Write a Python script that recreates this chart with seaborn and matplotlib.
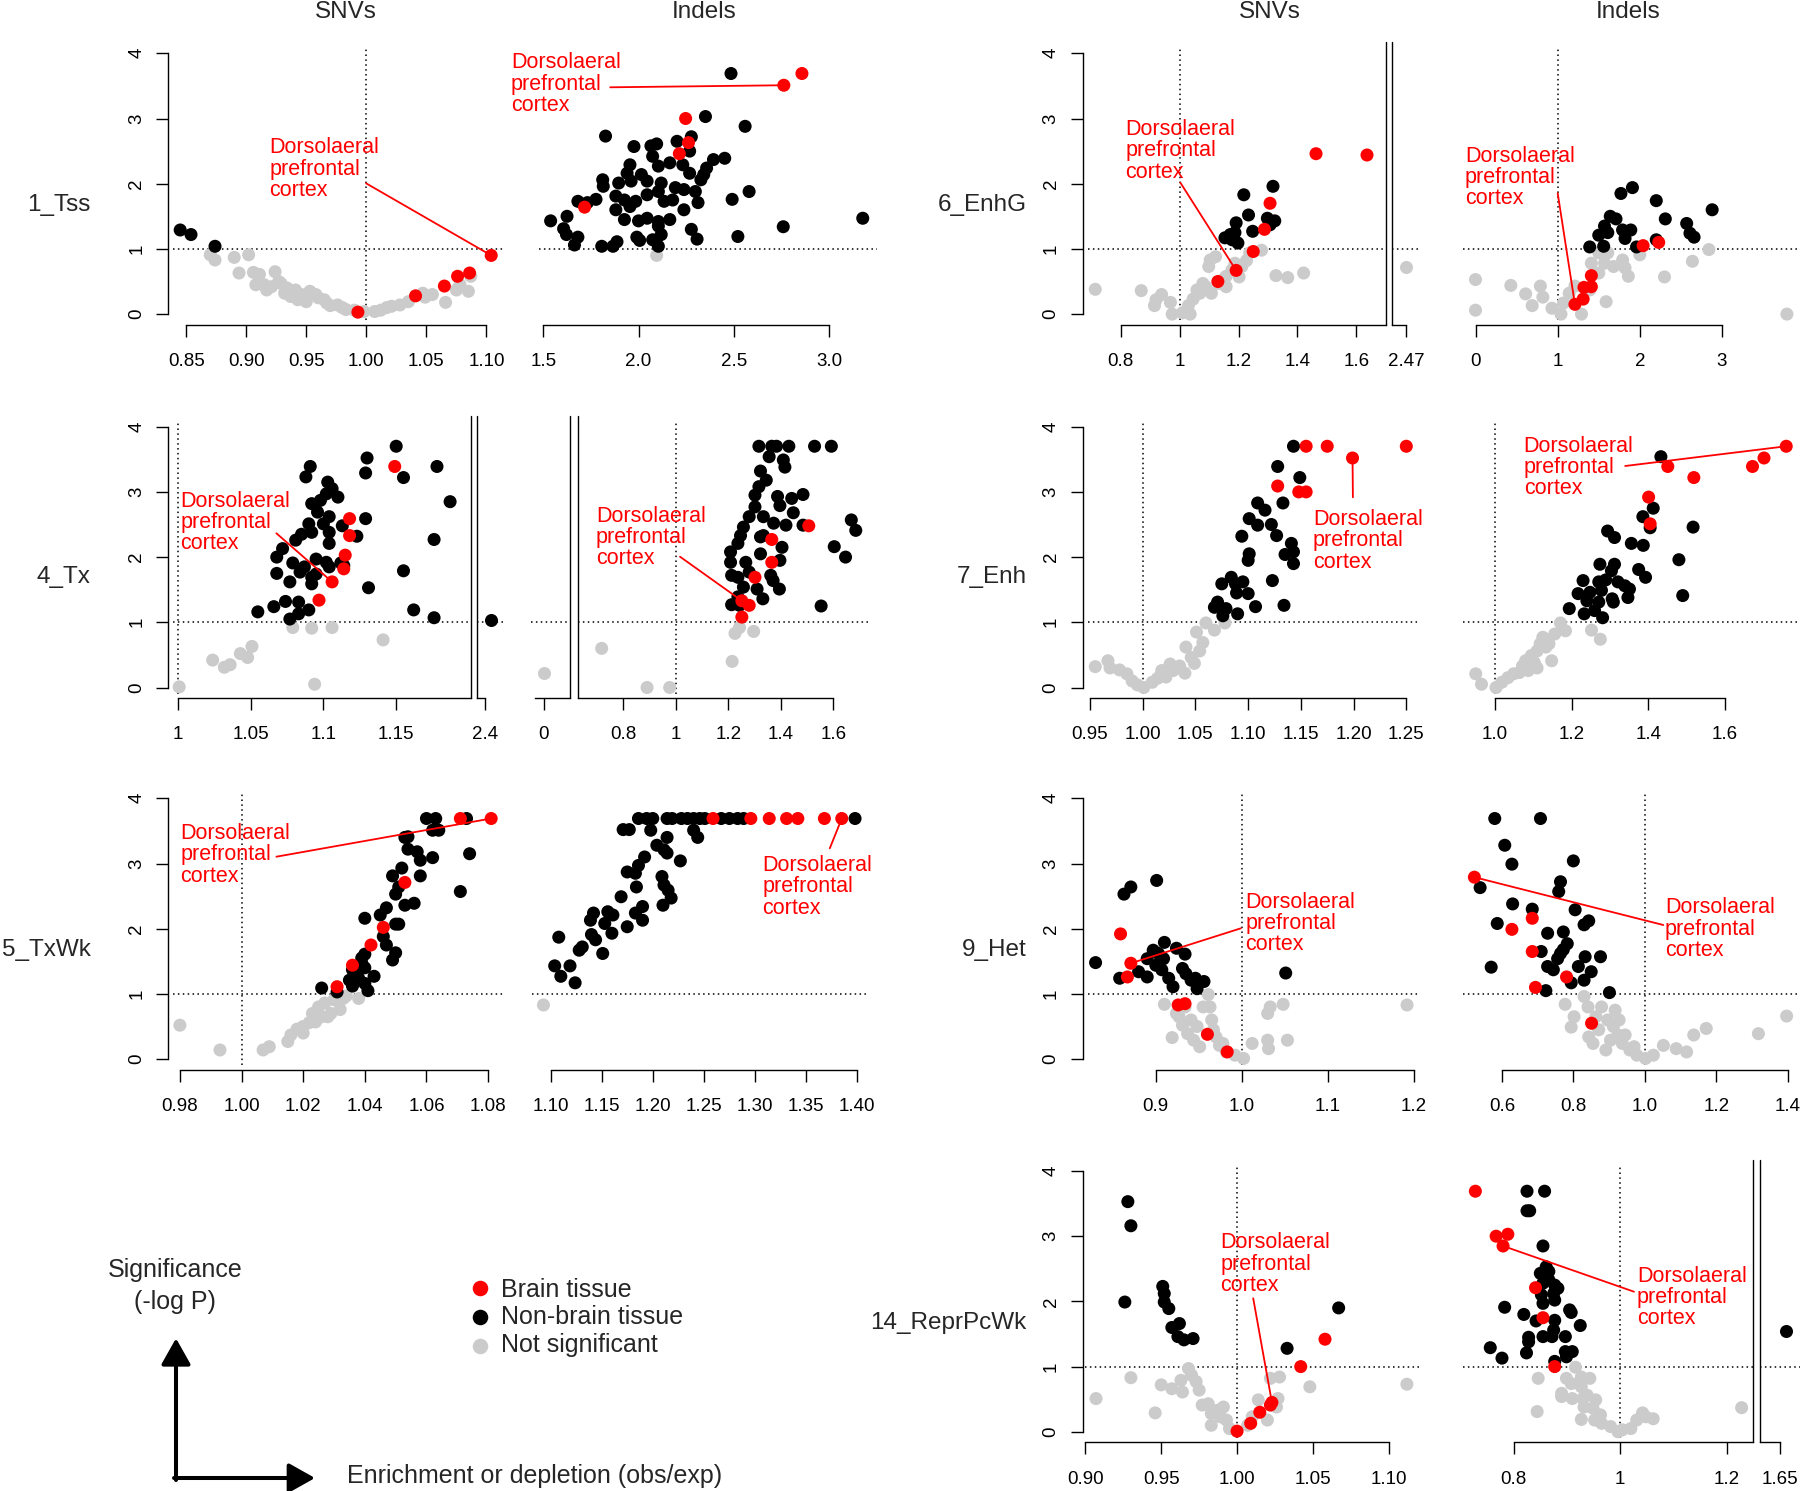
import pandas as pd
import matplotlib
matplotlib.use("Agg")
import matplotlib.pyplot as plt
from matplotlib.patches import ConnectionPatch
import seaborn as sns

# (obs/exp enrichment, -log10 P) per tissue.
# The first point of every *_RED list is dorsolateral prefrontal cortex.

TSS_SNV_GREY = [
    (0.870, 0.91), (0.874, 0.83), (0.890, 0.87), (0.902, 0.91), (0.894, 0.63),
    (0.906, 0.64), (0.911, 0.61), (0.924, 0.65), (0.908, 0.45), (0.915, 0.45),
    (0.921, 0.42), (0.927, 0.50), (0.929, 0.47), (0.932, 0.32), (0.934, 0.40),
    (0.937, 0.27), (0.941, 0.37), (0.943, 0.22), (0.946, 0.30), (0.950, 0.19),
    (0.953, 0.35), (0.958, 0.30), (0.960, 0.25), (0.965, 0.22), (0.967, 0.17),
    (0.970, 0.13), (0.976, 0.14), (0.980, 0.10), (0.983, 0.07), (0.990, 0.06),
    (0.998, 0.04), (1.007, 0.04), (1.012, 0.06), (1.017, 0.10), (1.021, 0.12),
    (1.028, 0.14), (1.035, 0.19), (1.047, 0.32), (1.049, 0.26), (1.055, 0.30),
    (1.066, 0.18), (1.075, 0.37), (1.078, 0.45), (1.085, 0.35), (1.087, 0.58),
    (0.917, 0.37),
]
TSS_SNV_BLACK = [(0.845, 1.29), (0.854, 1.22), (0.874, 1.04)]
TSS_SNV_RED = [(1.104, 0.90), (0.993, 0.03), (1.041, 0.28), (1.065, 0.43),
               (1.076, 0.58), (1.086, 0.63)]

TSS_INDEL_GREY = [(2.095, 0.90)]
TSS_INDEL_BLACK = [
    (2.485, 3.69), (2.351, 3.03), (2.559, 2.88), (1.827, 2.73), (1.976, 2.57),
    (2.065, 2.58), (2.095, 2.61), (2.202, 2.65), (2.277, 2.72), (2.268, 2.50),
    (2.393, 2.37), (2.452, 2.39), (2.357, 2.24), (2.342, 2.14), (2.327, 2.06),
    (2.268, 2.16), (2.232, 2.29), (2.164, 2.32), (2.104, 2.27), (2.074, 2.42),
    (1.955, 2.29), (1.940, 2.16), (2.015, 2.14), (1.812, 2.06), (1.815, 1.96),
    (1.896, 2.01), (1.961, 2.04), (2.045, 2.04), (2.119, 2.01), (2.193, 1.94),
    (2.238, 1.91), (2.298, 1.88), (2.580, 1.88), (2.491, 1.76), (1.777, 1.76),
    (1.682, 1.73), (1.732, 1.71), (1.881, 1.81), (1.926, 1.75), (1.985, 1.73),
    (2.045, 1.83), (2.104, 1.88), (2.134, 1.73), (2.179, 1.75), (2.312, 1.71),
    (2.238, 1.60), (1.881, 1.60), (1.955, 1.65), (1.625, 1.50), (1.539, 1.43),
    (1.926, 1.45), (2.000, 1.43), (2.045, 1.47), (2.104, 1.42), (2.164, 1.45),
    (2.104, 1.35), (2.277, 1.30), (1.607, 1.31), (1.622, 1.22), (1.682, 1.18),
    (1.664, 1.06), (1.807, 1.04), (1.866, 1.04), (1.887, 1.11), (1.991, 1.18),
    (2.006, 1.13), (2.074, 1.14), (2.119, 1.22), (2.104, 1.04), (2.307, 1.15),
    (2.521, 1.19), (2.759, 1.34), (3.176, 1.47),
]
TSS_INDEL_RED = [(2.762, 3.51), (2.857, 3.69), (2.247, 3.00), (2.262, 2.63),
                 (2.214, 2.46), (1.717, 1.64)]

TX_SNV_GREY = [
    (1.001, 0.01), (1.024, 0.42), (1.032, 0.31), (1.036, 0.35), (1.043, 0.52),
    (1.048, 0.46), (1.051, 0.63), (1.079, 0.92), (1.092, 0.91), (1.106, 0.92),
    (1.094, 0.05), (1.141, 0.73),
]
TX_SNV_BLACK = [
    (1.055, 1.16), (1.066, 1.24), (1.074, 1.32), (1.077, 1.05), (1.083, 1.31),
    (1.083, 1.13), (1.090, 1.19), (1.068, 1.75), (1.068, 2.00), (1.072, 2.13),
    (1.077, 1.62), (1.079, 1.91), (1.084, 1.77), (1.087, 1.85), (1.092, 1.69),
    (1.092, 1.59), (1.095, 1.74), (1.095, 1.97), (1.102, 1.92), (1.104, 1.85),
    (1.112, 1.91), (1.113, 2.48), (1.123, 2.32), (1.104, 2.21), (1.104, 2.38),
    (1.104, 2.62), (1.100, 2.51), (1.090, 2.51), (1.081, 2.26), (1.085, 2.35),
    (1.092, 2.38), (1.096, 2.69), (1.092, 2.82), (1.098, 2.87), (1.102, 2.97),
    (1.106, 3.05), (1.110, 2.92), (1.103, 3.15), (1.088, 3.23), (1.091, 3.39),
    (1.129, 3.29), (1.130, 3.52), (1.150, 3.70), (1.155, 3.22), (1.178, 3.39),
    (1.187, 2.85), (1.129, 2.59), (1.176, 2.27), (1.155, 1.79), (1.131, 1.53),
    (1.162, 1.19), (1.176, 1.07), (1.114, 1.87), (2.404, 1.04),
]
TX_SNV_RED = [(1.106, 1.62), (1.149, 3.39), (1.118, 2.59), (1.118, 2.33),
              (1.115, 2.03), (1.114, 1.82), (1.097, 1.34)]

TX_INDEL_GREY = [(0.000, 0.23), (0.718, 0.60), (0.891, 0.00), (0.977, 0.00),
                 (1.215, 0.40), (1.226, 0.83), (1.243, 0.92), (1.297, 0.86)]
TX_INDEL_BLACK = [
    (1.317, 3.70), (1.366, 3.70), (1.384, 3.70), (1.431, 3.70), (1.529, 3.70),
    (1.593, 3.70), (1.356, 3.54), (1.410, 3.49), (1.416, 3.38), (1.323, 3.32),
    (1.345, 3.18), (1.317, 3.08), (1.388, 2.93), (1.442, 2.90), (1.485, 2.96),
    (1.302, 2.95), (1.302, 2.77), (1.280, 2.62), (1.334, 2.62), (1.373, 2.52),
    (1.420, 2.49), (1.448, 2.68), (1.397, 2.79), (1.258, 2.46), (1.247, 2.33),
    (1.237, 2.21), (1.323, 2.31), (1.334, 2.33), (1.405, 2.15), (1.397, 1.95),
    (1.209, 2.08), (1.209, 1.92), (1.267, 1.92), (1.280, 1.77), (1.323, 2.05),
    (1.362, 1.72), (1.371, 1.64), (1.213, 1.72), (1.237, 1.69), (1.258, 1.54),
    (1.310, 1.51), (1.332, 1.36), (1.395, 1.51), (1.237, 1.39), (1.213, 1.27),
    (1.243, 1.26), (1.554, 1.25), (1.485, 2.49), (1.604, 2.16), (1.647, 2.00),
    (1.669, 2.57), (1.686, 2.41),
]
TX_INDEL_RED = [(1.252, 1.33), (1.507, 2.48), (1.366, 2.27), (1.366, 1.92),
                (1.302, 1.69), (1.280, 1.26), (1.252, 1.08)]

TXWK_SNV_GREY = [
    (0.980, 0.52), (0.993, 0.14), (1.007, 0.14), (1.009, 0.19), (1.015, 0.27),
    (1.016, 0.37), (1.018, 0.46), (1.020, 0.50), (1.020, 0.40), (1.022, 0.56),
    (1.023, 0.70), (1.024, 0.57), (1.025, 0.80), (1.026, 0.65), (1.027, 0.86),
    (1.028, 0.65), (1.029, 0.70), (1.030, 0.91), (1.032, 0.76), (1.033, 0.93),
    (1.034, 0.97), (1.038, 0.93),
]
TXWK_SNV_BLACK = [
    (1.026, 1.09), (1.031, 1.03), (1.035, 1.21), (1.036, 1.37), (1.038, 1.24),
    (1.039, 1.47), (1.040, 1.61), (1.040, 1.16), (1.041, 1.05), (1.043, 1.27),
    (1.040, 1.40), (1.037, 1.30), (1.039, 1.55), (1.036, 1.12), (1.040, 2.16),
    (1.045, 2.21), (1.047, 2.32), (1.046, 1.88), (1.047, 1.75), (1.049, 1.52),
    (1.050, 1.63), (1.050, 2.07), (1.051, 2.07), (1.050, 2.53), (1.051, 2.64),
    (1.049, 2.81), (1.052, 2.93), (1.053, 3.40), (1.054, 3.22), (1.057, 3.18),
    (1.058, 3.05), (1.058, 2.81), (1.056, 2.39), (1.053, 2.36), (1.060, 3.69),
    (1.063, 3.69), (1.062, 3.51), (1.064, 3.51), (1.062, 3.09), (1.071, 2.57),
    (1.074, 3.15), (1.073, 3.69), (1.054, 3.41),
]
TXWK_SNV_RED = [(1.081, 3.69), (1.071, 3.69), (1.053, 2.71), (1.046, 2.02),
                (1.042, 1.75), (1.036, 1.44), (1.031, 1.11)]

TXWK_INDEL_GREY = [(1.093, 0.83)]
TXWK_INDEL_BLACK = [
    (1.104, 1.43), (1.110, 1.27), (1.108, 1.87), (1.119, 1.43), (1.124, 1.17),
    (1.128, 1.67), (1.131, 1.72), (1.139, 2.13), (1.142, 2.24), (1.140, 1.91),
    (1.144, 1.83), (1.151, 1.62), (1.153, 2.08), (1.156, 2.26), (1.160, 1.93),
    (1.161, 2.21), (1.169, 2.49), (1.175, 2.03), (1.175, 2.87), (1.183, 2.85),
    (1.184, 2.64), (1.186, 2.97), (1.192, 3.10), (1.190, 2.34), (1.183, 2.24),
    (1.190, 2.13), (1.171, 3.52), (1.177, 3.52), (1.198, 3.51), (1.204, 3.28),
    (1.214, 3.40), (1.211, 3.21), (1.214, 3.16), (1.227, 3.04), (1.209, 2.80),
    (1.211, 2.67), (1.215, 2.59), (1.218, 2.47), (1.210, 2.36), (1.240, 3.51),
    (1.244, 3.40), (1.186, 3.69), (1.194, 3.69), (1.200, 3.69), (1.214, 3.69),
    (1.219, 3.69), (1.228, 3.69), (1.234, 3.69), (1.240, 3.69), (1.246, 3.69),
    (1.251, 3.69), (1.267, 3.69), (1.275, 3.69), (1.283, 3.69), (1.289, 3.69),
    (1.398, 3.69),
]
TXWK_INDEL_RED = [(1.385, 3.69), (1.259, 3.69), (1.296, 3.69), (1.314, 3.69),
                  (1.331, 3.69), (1.342, 3.69), (1.368, 3.69)]

ENHG_SNV_GREY = [
    (0.714, 0.38), (0.870, 0.36), (0.915, 0.13), (0.920, 0.22), (0.939, 0.30),
    (0.969, 0.18), (0.975, 0.00), (1.010, 0.02), (1.036, 0.00), (1.030, 0.13),
    (1.046, 0.23), (1.059, 0.37), (1.089, 0.42), (1.069, 0.32), (1.099, 0.73),
    (1.104, 0.83), (1.122, 0.88), (1.148, 0.53), (1.158, 0.58), (1.158, 0.42),
    (1.202, 0.57), (1.211, 0.73), (1.227, 0.82), (1.238, 0.94), (1.278, 0.98),
    (1.327, 0.59), (1.367, 0.56), (1.421, 0.63), (1.108, 0.32), (1.132, 0.47),
    (1.079, 0.47), (1.178, 0.68), (1.188, 0.78), (2.470, 0.72),
]
ENHG_SNV_BLACK = [
    (1.154, 1.17), (1.178, 1.14), (1.192, 1.40), (1.188, 1.25), (1.218, 1.83),
    (1.234, 1.52), (1.248, 1.27), (1.298, 1.47), (1.317, 1.96), (1.323, 1.43),
    (1.307, 1.37), (1.172, 1.22), (1.198, 1.09),
]
ENHG_SNV_RED = [(1.192, 0.67), (1.463, 2.46), (1.636, 2.44), (1.307, 1.70),
                (1.288, 1.30), (1.250, 0.96), (1.130, 0.50)]

ENHG_INDEL_GREY = [
    (0.00, 0.53), (0.00, 0.06), (0.43, 0.44), (0.61, 0.31), (0.69, 0.13),
    (0.79, 0.43), (0.82, 0.26), (0.93, 0.09), (1.04, 0.00), (1.07, 0.17),
    (1.14, 0.32), (1.21, 0.43), (1.29, 0.00), (1.39, 0.37), (1.41, 0.78),
    (1.50, 0.63), (1.57, 0.78), (1.61, 0.94), (1.59, 0.19), (1.68, 0.73),
    (1.79, 0.83), (1.86, 0.58), (1.82, 0.71), (2.00, 0.91), (2.30, 0.57),
    (2.64, 0.81), (2.84, 0.99), (3.79, 0.00), (1.50, 0.94),
]
ENHG_INDEL_BLACK = [
    (1.77, 1.85), (1.91, 1.94), (2.20, 1.74), (2.31, 1.46), (2.57, 1.39),
    (2.88, 1.60), (1.64, 1.50), (1.71, 1.46), (1.57, 1.35), (1.50, 1.21),
    (1.61, 1.25), (1.79, 1.29), (1.89, 1.29), (1.82, 1.16), (1.39, 1.03),
    (1.96, 1.03), (1.56, 1.04), (2.61, 1.24), (2.66, 1.18), (2.20, 1.14),
]
ENHG_INDEL_RED = [(1.21, 0.15), (1.41, 0.59), (1.41, 0.42), (1.32, 0.41),
                  (1.31, 0.23), (2.04, 1.05), (2.23, 1.10)]

ENH_SNV_GREY = [
    (0.955, 0.32), (0.967, 0.41), (0.969, 0.30), (0.978, 0.27), (0.985, 0.21),
    (0.990, 0.10), (0.995, 0.04), (1.001, 0.00), (1.009, 0.08), (1.014, 0.14),
    (1.018, 0.26), (1.022, 0.16), (1.026, 0.36), (1.029, 0.26), (1.035, 0.33),
    (1.040, 0.22), (1.041, 0.62), (1.046, 0.46), (1.049, 0.37), (1.051, 0.85),
    (1.054, 0.56), (1.057, 0.69), (1.060, 0.99), (1.068, 0.88), (1.078, 0.99),
]
ENH_SNV_BLACK = [
    (1.143, 3.70), (1.128, 3.39), (1.149, 3.22), (1.109, 2.83), (1.116, 2.72),
    (1.133, 2.83), (1.101, 2.59), (1.109, 2.49), (1.122, 2.50), (1.127, 2.33),
    (1.094, 2.32), (1.141, 2.21), (1.143, 2.08), (1.135, 2.04), (1.101, 2.05),
    (1.100, 1.95), (1.143, 1.90), (1.084, 1.69), (1.075, 1.59), (1.088, 1.59),
    (1.095, 1.62), (1.089, 1.45), (1.100, 1.44), (1.123, 1.64), (1.071, 1.31),
    (1.068, 1.23), (1.079, 1.21), (1.076, 1.10), (1.090, 1.13), (1.107, 1.24),
    (1.134, 1.26),
]
ENH_SNV_RED = [(1.199, 3.52), (1.155, 3.70), (1.175, 3.70), (1.250, 3.70),
               (1.128, 3.09), (1.148, 3.00), (1.155, 3.00)]

ENH_INDEL_GREY = [
    (0.950, 0.21), (0.965, 0.05), (1.003, 0.00), (1.018, 0.08), (1.034, 0.15),
    (1.049, 0.21), (1.064, 0.23), (1.072, 0.33), (1.080, 0.41), (1.087, 0.26),
    (1.095, 0.49), (1.103, 0.38), (1.110, 0.56), (1.110, 0.30), (1.118, 0.67),
    (1.125, 0.77), (1.133, 0.62), (1.141, 0.67), (1.148, 0.41), (1.156, 0.82),
    (1.171, 0.99), (1.184, 0.87), (1.252, 0.88), (1.275, 0.74),
]
ENH_INDEL_BLACK = [
    (1.433, 3.54), (1.413, 2.75), (1.386, 2.62), (1.517, 2.46), (1.405, 2.45),
    (1.294, 2.40), (1.312, 2.30), (1.356, 2.21), (1.387, 2.18), (1.480, 1.96),
    (1.274, 1.89), (1.312, 1.89), (1.304, 1.79), (1.375, 1.81), (1.393, 1.69),
    (1.230, 1.64), (1.271, 1.62), (1.289, 1.65), (1.321, 1.62), (1.339, 1.56),
    (1.351, 1.51), (1.217, 1.44), (1.248, 1.46), (1.278, 1.49), (1.306, 1.36),
    (1.347, 1.38), (1.240, 1.33), (1.271, 1.31), (1.309, 1.31), (1.194, 1.21),
    (1.233, 1.13), (1.260, 1.18), (1.281, 1.07), (1.490, 1.41),
]
ENH_INDEL_RED = [(1.760, 3.70), (1.702, 3.52), (1.672, 3.39), (1.451, 3.39),
                 (1.519, 3.22), (1.401, 2.92), (1.405, 2.51)]

HET_SNV_GREY = [
    (0.910, 0.84), (0.919, 0.33), (0.924, 0.70), (0.931, 0.52), (0.934, 0.80),
    (0.937, 0.39), (0.944, 0.29), (0.948, 0.50), (0.951, 0.19), (0.955, 0.80),
    (0.961, 0.99), (0.963, 0.80), (0.965, 0.60), (0.967, 0.45), (0.970, 0.34),
    (0.974, 0.21), (0.982, 0.11), (0.992, 0.06), (1.002, 0.01), (1.012, 0.24),
    (1.030, 0.29), (1.031, 0.16), (1.030, 0.70), (1.033, 0.80), (1.048, 0.84),
    (1.053, 0.29), (1.192, 0.83), (0.927, 0.65), (0.941, 0.60), (0.978, 0.24),
]
HET_SNV_BLACK = [
    (0.830, 1.48), (0.858, 1.24), (0.863, 2.53), (0.871, 2.64), (0.901, 2.74),
    (0.880, 1.34), (0.890, 1.26), (0.890, 1.54), (0.897, 1.67), (0.903, 1.62),
    (0.910, 1.79), (0.909, 1.54), (0.900, 1.44), (0.907, 1.37), (0.915, 1.24),
    (0.920, 1.11), (0.924, 1.70), (0.931, 1.39), (0.934, 1.61), (0.935, 1.31),
    (0.941, 1.21), (0.946, 1.24), (0.956, 1.19), (0.948, 1.08), (1.051, 1.32),
]
HET_SNV_RED = [(0.871, 1.47), (0.859, 1.92), (0.867, 1.26), (0.926, 0.83),
               (0.934, 0.85), (0.960, 0.38), (0.983, 0.11)]

HET_INDEL_GREY = [
    (0.777, 0.84), (0.802, 0.65), (0.794, 0.49), (0.830, 0.96), (0.841, 0.80),
    (0.843, 0.34), (0.871, 0.45), (0.879, 0.80), (0.896, 0.60), (0.891, 0.14),
    (0.912, 0.50), (0.917, 0.75), (0.925, 0.37), (0.937, 0.24), (0.945, 0.37),
    (0.958, 0.14), (0.978, 0.06), (1.002, 0.01), (1.024, 0.06), (1.052, 0.21),
    (1.088, 0.16), (1.117, 0.11), (1.137, 0.37), (1.172, 0.47), (1.318, 0.39),
    (1.397, 0.66), (0.863, 0.65), (0.904, 0.29), (0.928, 0.60), (0.855, 0.24),
    (0.970, 0.19),
]
HET_INDEL_BLACK = [
    (0.580, 3.69), (0.708, 3.69), (0.608, 3.28), (0.628, 2.99), (0.800, 3.04),
    (0.539, 2.63), (0.764, 2.72), (0.759, 2.57), (0.630, 2.38), (0.685, 2.30),
    (0.805, 2.29), (0.587, 2.08), (0.843, 2.12), (0.830, 2.06), (0.728, 1.93),
    (0.772, 1.95), (0.783, 1.77), (0.772, 1.68), (0.710, 1.65), (0.764, 1.62),
    (0.756, 1.54), (0.833, 1.57), (0.876, 1.57), (0.570, 1.41), (0.728, 1.42),
    (0.744, 1.37), (0.814, 1.42), (0.850, 1.34), (0.830, 1.21), (0.794, 1.17),
    (0.723, 1.05), (0.901, 1.02),
]
HET_INDEL_RED = [(0.523, 2.79), (0.628, 1.99), (0.685, 2.16), (0.685, 1.65),
                 (0.694, 1.10), (0.781, 1.26), (0.851, 0.55)]

REPR_SNV_GREY = [
    (0.907, 0.51), (0.930, 0.83), (0.946, 0.29), (0.950, 0.72), (0.957, 0.66),
    (0.963, 0.79), (0.964, 0.61), (0.968, 0.97), (0.970, 0.87), (0.973, 0.77),
    (0.975, 0.64), (0.977, 0.41), (0.981, 0.43), (0.983, 0.28), (0.987, 0.33),
    (0.991, 0.38), (0.983, 0.10), (0.993, 0.18), (0.995, 0.05), (1.007, 0.10),
    (1.010, 0.23), (1.014, 0.49), (1.020, 0.18), (1.026, 0.38), (1.022, 0.82),
    (1.028, 0.84), (1.027, 0.51), (1.048, 0.69), (1.112, 0.73), (0.989, 0.23),
]
REPR_SNV_BLACK = [
    (0.928, 3.53), (0.930, 3.16), (0.926, 1.99), (0.951, 2.23), (0.952, 2.12),
    (0.952, 1.99), (0.955, 1.89), (0.957, 1.60), (0.962, 1.66), (0.961, 1.46),
    (0.965, 1.41), (0.971, 1.43), (1.033, 1.28), (1.067, 1.90),
]
REPR_SNV_RED = [(1.023, 0.45), (1.000, 0.01), (1.009, 0.13), (1.015, 0.30),
                (1.022, 0.41), (1.042, 1.00), (1.058, 1.42)]

REPR_INDEL_GREY = [
    (0.846, 0.82), (0.844, 0.31), (0.890, 0.59), (0.899, 0.82), (0.908, 0.74),
    (0.916, 0.99), (0.927, 0.84), (0.943, 0.82), (0.890, 0.54), (0.910, 0.51),
    (0.927, 0.69), (0.930, 0.51), (0.932, 0.38), (0.927, 0.19), (0.949, 0.36),
    (0.952, 0.18), (0.963, 0.26), (0.965, 0.13), (0.982, 0.08), (0.996, 0.00),
    (1.004, 0.03), (1.020, 0.05), (1.031, 0.18), (1.042, 0.29), (1.062, 0.20),
    (1.048, 0.23), (1.228, 0.37), (0.938, 0.56), (0.954, 0.49),
]
REPR_INDEL_BLACK = [
    (0.825, 3.69), (0.858, 3.69), (0.825, 3.39), (0.830, 3.39), (0.855, 2.85),
    (0.861, 2.53), (0.850, 2.43), (0.866, 2.46), (0.866, 2.33), (0.855, 2.28),
    (0.877, 2.25), (0.883, 2.20), (0.852, 2.10), (0.875, 2.12), (0.877, 2.02),
    (0.783, 1.91), (0.855, 1.97), (0.905, 1.87), (0.908, 1.83), (0.819, 1.80),
    (0.842, 1.70), (0.877, 1.71), (0.875, 1.56), (0.925, 1.63), (0.828, 1.45),
    (0.828, 1.38), (0.855, 1.46), (0.872, 1.46), (0.897, 1.46), (0.756, 1.29),
    (0.824, 1.21), (0.897, 1.23), (0.910, 1.23), (0.778, 1.13), (0.899, 1.15),
    (0.877, 1.08), (1.663, 1.55),
]
REPR_INDEL_RED = [(0.780, 2.85), (0.728, 3.69), (0.767, 3.00), (0.789, 3.03),
                  (0.841, 2.21), (0.855, 1.75), (0.877, 1.00)]

Y_TICKS = [0, 1, 2, 3, 4]
Y_LABELS = ["0", "1", "2", "3", "4"]
COL_TITLES = ["SNVs", "Indels", "SNVs", "Indels"]
ROW_NAMES_LEFT = ["1_Tss", "4_Tx", "5_TxWk"]
ROW_NAMES_RIGHT = ["6_EnhG", "7_Enh", "9_Het", "14_ReprPcWk"]
NOTE_LINES = ["Dorsolaeral", "prefrontal", "cortex"]
LEGEND_LABELS = ["Brain tissue", "Non-brain tissue", "Not significant"]

RED, BLACK, GREY = "#FF0000", "#000000", "#CBCBCB"
PALETTE = {"brain": RED, "other": BLACK, "ns": GREY}

# ---- layout, in pixels of the 1800 x 1491 canvas ----
W, H = 1800, 1491
ROW_TOP = [53.3, 426.7, 798.3, 1171.0]   # pixel row of -log P = 4
UNIT = 65.2                               # pixels per -log P unit
PAD = 6                                   # plot region beyond 0..4
DROP = 4.5                                # x axis line below region
PT = 72 / 100
TICK_FS = 13.5


def part(region, cal, ticks, labels, bounds=None, yaxis=None):
    return dict(region=region, cal=cal, ticks=ticks, labels=labels,
                bounds=bounds, yaxis=yaxis)


PANELS = [
    dict(row=0, pts=(TSS_SNV_GREY, TSS_SNV_BLACK, TSS_SNV_RED),
         parts=[part((173, 504), (0.85, 186.2, 1.10, 486.4),
                     [0.85, 0.90, 0.95, 1.00, 1.05, 1.10],
                     ["0.85", "0.90", "0.95", "1.00", "1.05", "1.10"], yaxis=168)],
         note=(269.6, 138.3, 366.1, 183.3)),
    dict(row=0, pts=(TSS_INDEL_GREY, TSS_INDEL_BLACK, TSS_INDEL_RED),
         parts=[part((539, 877), (1.5, 543.2, 3.0, 829.2),
                     [1.5, 2.0, 2.5, 3.0], ["1.5", "2.0", "2.5", "3.0"])],
         note=(510.8, 53.3, 610.2, 87.3)),
    dict(row=1, pts=(TX_SNV_GREY, TX_SNV_BLACK, TX_SNV_RED),
         parts=[part((173, 470.5), (1.0, 177.7, 1.15, 396.2),
                     [1.0, 1.05, 1.1, 1.15], ["1", "1.05", "1.1", "1.15"],
                     bounds=(1.0, None), yaxis=168),
                part((476.8, 504), (2.4, 485.3, 3.4, 1942.0), [2.4], ["2.4"],
                     bounds=(None, 2.4))],
         note=(180.5, 491.7, 276.4, 533.3)),
    dict(row=1, pts=(TX_INDEL_GREY, TX_INDEL_BLACK, TX_INDEL_RED),
         parts=[part((530.7, 570.4), (0.0, 543.8, 1.0, 806.3), [0.0], ["0"],
                     bounds=(-0.035, None)),
                part((577.8, 868.4), (0.8, 623.2, 1.6, 833.2),
                     [0.8, 1.0, 1.2, 1.4, 1.6], ["0.8", "1", "1.2", "1.4", "1.6"],
                     bounds=(None, 1.6))],
         note=(596.0, 506.7, 680.0, 556.7)),
    dict(row=2, pts=(TXWK_SNV_GREY, TXWK_SNV_BLACK, TXWK_SNV_RED),
         parts=[part((173, 504), (0.98, 179.9, 1.08, 488.1),
                     [0.98, 1.00, 1.02, 1.04, 1.06, 1.08],
                     ["0.98", "1.00", "1.02", "1.04", "1.06", "1.08"], yaxis=168)],
         note=(180.5, 824.0, 276.4, 856.7)),
    dict(row=2, pts=(TXWK_INDEL_GREY, TXWK_INDEL_BLACK, TXWK_INDEL_RED),
         parts=[part((531.8, 868.4), (1.10, 550.6, 1.40, 857.1),
                     [1.10, 1.15, 1.20, 1.25, 1.30, 1.35, 1.40],
                     ["1.10", "1.15", "1.20", "1.25", "1.30", "1.35", "1.40"])],
         note=(762.3, 856.0, 829.8, 848.3)),
    dict(row=0, pts=(ENHG_SNV_GREY, ENHG_SNV_BLACK, ENHG_SNV_RED),
         parts=[part((1088, 1385.8), (0.8, 1120.6, 1.6, 1356.4),
                     [0.8, 1.0, 1.2, 1.4, 1.6], ["0.8", "1", "1.2", "1.4", "1.6"],
                     bounds=(0.8, None), yaxis=1082.5),
                part((1392.2, 1419.8), (2.47, 1406.3, 3.47, 1701.1), [2.47], ["2.47"],
                     bounds=(None, 2.47))],
         note=(1125.3, 120.0, 1180.4, 182.7)),
    dict(row=0, pts=(ENHG_INDEL_GREY, ENHG_INDEL_BLACK, ENHG_INDEL_RED),
         parts=[part((1462.6, 1800), (0.0, 1475.5, 3.0, 1722.0),
                     [0, 1, 2, 3], ["0", "1", "2", "3"])],
         note=(1465.0, 146.7, 1557.7, 193.3)),
    dict(row=1, pts=(ENH_SNV_GREY, ENH_SNV_BLACK, ENH_SNV_RED),
         parts=[part((1088, 1419.8), (0.95, 1090.0, 1.25, 1406.3),
                     [0.95, 1.00, 1.05, 1.10, 1.15, 1.20, 1.25],
                     ["0.95", "1.00", "1.05", "1.10", "1.15", "1.20", "1.25"],
                     yaxis=1082.5)],
         note=(1313.0, 510.0, 1352.9, 497.3)),
    dict(row=1, pts=(ENH_INDEL_GREY, ENH_INDEL_BLACK, ENH_INDEL_RED),
         parts=[part((1462.6, 1800), (1.0, 1494.9, 1.6, 1724.9),
                     [1.0, 1.2, 1.4, 1.6], ["1.0", "1.2", "1.4", "1.6"])],
         note=(1523.7, 436.7, 1625.2, 466.0)),
    dict(row=2, pts=(HET_SNV_GREY, HET_SNV_BLACK, HET_SNV_RED),
         parts=[part((1088, 1419.8), (0.9, 1155.8, 1.2, 1413.9),
                     [0.9, 1.0, 1.1, 1.2], ["0.9", "1.0", "1.1", "1.2"],
                     yaxis=1082.5)],
         note=(1245.5, 892.7, 1240.9, 928.3)),
    dict(row=2, pts=(HET_INDEL_GREY, HET_INDEL_BLACK, HET_INDEL_RED),
         parts=[part((1462.6, 1800), (0.6, 1501.9, 1.4, 1787.7),
                     [0.6, 0.8, 1.0, 1.2, 1.4], ["0.6", "0.8", "1.0", "1.2", "1.4"])],
         note=(1665.0, 898.3, 1663.3, 925.0)),
    dict(row=3, pts=(REPR_SNV_GREY, REPR_SNV_BLACK, REPR_SNV_RED),
         parts=[part((1085, 1419.8), (0.90, 1085.4, 1.10, 1388.7),
                     [0.90, 0.95, 1.00, 1.05, 1.10],
                     ["0.90", "0.95", "1.00", "1.05", "1.10"], yaxis=1082.5)],
         note=(1220.3, 1233.3, 1253.2, 1298.3)),
    dict(row=3, pts=(REPR_INDEL_GREY, REPR_INDEL_BLACK, REPR_INDEL_RED),
         parts=[part((1462.6, 1752.5), (0.8, 1513.7, 1.2, 1726.7),
                     [0.8, 1.0, 1.2], ["0.8", "1", "1.2"], bounds=(0.8, None)),
                part((1760.1, 1800), (1.65, 1779.5, 2.65, 2312.0), [1.65], ["1.65"],
                     bounds=(None, 1.65))],
         note=(1636.9, 1266.7, 1634.0, 1291.7)),
]

BREAKS = [(1, 470.5, 476.8), (1, 570.4, 577.8), (0, 1385.8, 1392.2), (3, 1752.5, 1760.1)]

sns.set_style("ticks")
plt.rcParams["font.family"] = ["Liberation Sans", "DejaVu Sans"]

fig = plt.figure(figsize=(W / 100, H / 100), dpi=100)
ov = fig.add_axes([0, 0, 1, 1])
ov.set_xlim(0, W)
ov.set_ylim(H, 0)
ov.axis("off")
ov.set_zorder(10)


def xlim_from(region, cal):
    v1, p1, v2, p2 = cal
    k = (v2 - v1) / (p2 - p1)
    return v1 + (region[0] - p1) * k, v1 + (region[1] - p1) * k


def draw_panel(spec):
    grey, black, red = spec["pts"]
    df = pd.DataFrame(grey + black + red, columns=["ratio", "nlogp"])
    df["group"] = ["ns"] * len(grey) + ["other"] * len(black) + ["brain"] * len(red)
    top = ROW_TOP[spec["row"]] - PAD
    bottom = ROW_TOP[spec["row"]] + 4 * UNIT + PAD
    red_ax = None
    for p in spec["parts"]:
        left, right = p["region"]
        ax = fig.add_axes([left / W, 1 - bottom / H, (right - left) / W, (bottom - top) / H])
        lo, hi = xlim_from(p["region"], p["cal"])
        sub = df[(df.ratio >= lo) & (df.ratio <= hi)]
        ax.axhline(1, color="black", lw=1.1, ls=(0, (1, 2.2)), zorder=1)
        if lo < 1 < hi:
            ax.axvline(1, color="black", lw=1.1, ls=(0, (1, 2.2)), zorder=1)
        sns.scatterplot(data=sub, x="ratio", y="nlogp", hue="group", palette=PALETTE,
                        s=88, linewidth=0, legend=False, ax=ax, clip_on=False, zorder=3)
        ax.set_xlim(lo, hi)
        ax.set_ylim(-PAD / UNIT, 4 + PAD / UNIT)
        ax.set_xlabel("")
        ax.set_ylabel("")
        ax.patch.set_alpha(0)
        for s in ["top", "right"]:
            ax.spines[s].set_visible(False)

        ax.set_xticks(p["ticks"])
        ax.set_xticklabels(p["labels"])
        b0, b1 = p["bounds"] if p["bounds"] else (p["ticks"][0], p["ticks"][-1])
        ax.spines["bottom"].set_bounds(lo if b0 is None else b0, hi if b1 is None else b1)
        ax.spines["bottom"].set_position(("outward", DROP * PT))
        ax.spines["bottom"].set_color("black")
        ax.spines["bottom"].set_linewidth(1.0)
        ax.tick_params(axis="x", length=8.4, width=1.0, pad=12, labelsize=TICK_FS,
                       color="black", labelcolor="black")

        if p["yaxis"] is not None:
            ax.set_yticks(Y_TICKS)
            ax.set_yticklabels(Y_LABELS)
            ax.spines["left"].set_position(("outward", (left - p["yaxis"]) * PT))
            ax.spines["left"].set_bounds(0, 4)
            ax.spines["left"].set_color("black")
            ax.spines["left"].set_linewidth(1.0)
            ax.tick_params(axis="y", length=8.4, width=1.0, pad=8, labelsize=TICK_FS,
                           labelrotation=90, color="black", labelcolor="black")
            for t in ax.yaxis.get_major_ticks():
                t.label1.set_verticalalignment("center")
        else:
            ax.spines["left"].set_visible(False)
            ax.set_yticks([])
        if lo <= red[0][0] <= hi:
            red_ax = ax

    tx, ty, sx, sy = spec["note"]
    for i, word in enumerate(NOTE_LINES):
        ov.text(tx, ty + 15 + i * 21.3, word, color=RED, fontsize=15.5,
                ha="left", va="baseline")
    fig.add_artist(ConnectionPatch(xyA=(sx, sy), coordsA=ov.transData,
                                   xyB=red[0], coordsB=red_ax.transData,
                                   color=RED, lw=1.3))


for spec in PANELS:
    draw_panel(spec)

for row, xa, xb in BREAKS:
    for x in (xa, xb):
        ov.plot([x, x], [ROW_TOP[row] - 11, ROW_TOP[row] + 4 * UNIT + PAD + DROP],
                color="black", lw=1.0)

for x, title in zip([346, 704, 1270, 1628], COL_TITLES):
    ov.text(x, 18.3, title, fontsize=17.5, ha="center", va="baseline")
for r, name in enumerate(ROW_NAMES_LEFT):
    ov.text(90.8, 210.7 + 372.6 * r, name, fontsize=17.5, ha="right", va="baseline")
for r, name in enumerate(ROW_NAMES_RIGHT):
    ov.text(1026.7, 210.7 + 372.6 * r, name, fontsize=17.5, ha="right", va="baseline")

# key in the empty bottom-left cell
ov.text(175, 1277.3, "Significance", fontsize=18, ha="center", va="baseline")
ov.text(175, 1309.3, "(-log P)", fontsize=18, ha="center", va="baseline")
arrow = dict(arrowstyle="-|>,head_length=1.6,head_width=0.9", mutation_scale=10,
             lw=2.9, color="black", shrinkA=0, shrinkB=0)
ov.annotate("", xy=(176, 1338.3), xytext=(176, 1480), arrowprops=arrow)
ov.annotate("", xy=(315, 1478), xytext=(174, 1478), arrowprops=arrow)
ov.text(347, 1482.7, "Enrichment or depletion (obs/exp)", fontsize=18,
        ha="left", va="baseline")
for (y_dot, y_txt), color, label in zip([(1288.3, 1296.7), (1316.7, 1324.3), (1345.7, 1352.3)],
                                        [RED, BLACK, GREY], LEGEND_LABELS):
    ov.scatter([480], [y_dot], s=125, color=color, linewidth=0)
    ov.text(501, y_txt, label, fontsize=18, ha="left", va="baseline")

fig.savefig("out.png", dpi=100)
